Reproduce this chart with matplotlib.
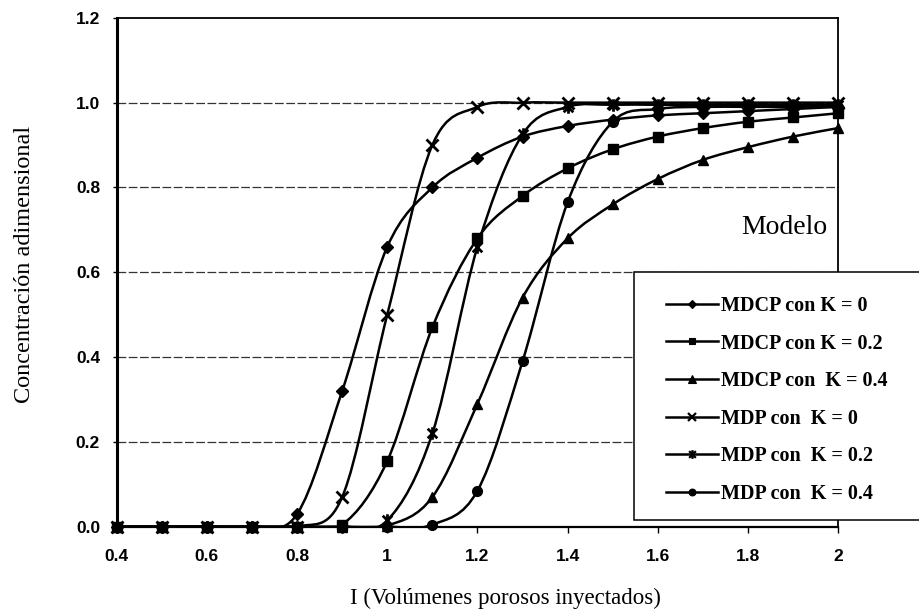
import numpy as np
import matplotlib
matplotlib.use("Agg")
import matplotlib.pyplot as plt
from matplotlib.path import Path
from matplotlib.patches import PathPatch, Rectangle
from matplotlib.lines import Line2D

# volumenes porosos inyectados
x_vals = [0.4, 0.5, 0.6, 0.7, 0.8, 0.9, 1.0, 1.1, 1.2, 1.3, 1.4, 1.5, 1.6, 1.7, 1.8, 1.9, 2.0]

mdcp_k0 = [0, 0, 0, 0, 0.03, 0.32, 0.66, 0.80, 0.87, 0.92, 0.945, 0.96, 0.97, 0.975, 0.98, 0.985, 0.99]
mdcp_k02 = [0, 0, 0, 0, 0, 0.005, 0.155, 0.47, 0.68, 0.78, 0.845, 0.89, 0.92, 0.94, 0.955, 0.965, 0.975]
mdcp_k04 = [0, 0, 0, 0, 0, 0, 0.003, 0.07, 0.29, 0.54, 0.68, 0.76, 0.82, 0.865, 0.895, 0.92, 0.94]
mdp_k0 = [0, 0, 0, 0, 0, 0.07, 0.50, 0.90, 0.99, 1.0, 1.0, 1.0, 1.0, 1.0, 1.0, 1.0, 1.0]
mdp_k02 = [0, 0, 0, 0, 0, 0, 0.015, 0.22, 0.66, 0.925, 0.99, 0.995, 0.995, 0.995, 0.995, 0.995, 0.995]
mdp_k04 = [0, 0, 0, 0, 0, 0, 0, 0.005, 0.085, 0.39, 0.765, 0.955, 0.985, 0.99, 0.99, 0.99, 0.99]

labels = ["MDCP con K = 0", "MDCP con K = 0.2", "MDCP con  K = 0.4",
          "MDP con  K = 0", "MDP con  K = 0.2", "MDP con  K = 0.4"]

x_ticks = [0.4, 0.6, 0.8, 1.0, 1.2, 1.4, 1.6, 1.8, 2.0]
x_ticklabels = ["0.4", "0.6", "0.8", "1", "1.2", "1.4", "1.6", "1.8", "2"]
y_ticks = [0.0, 0.2, 0.4, 0.6, 0.8, 1.0, 1.2]
y_ticklabels = ["0.0", "0.2", "0.4", "0.6", "0.8", "1.0", "1.2"]

# asterisco tipo Excel (x + linea vertical)
star = Path([(-1, -1), (1, 1), (-1, 1), (1, -1), (0, -1.3), (0, 1.3)],
            [Path.MOVETO, Path.LINETO, Path.MOVETO, Path.LINETO, Path.MOVETO, Path.LINETO])

styles = [
    dict(marker="D", ms=6, mew=1),
    dict(marker="s", ms=7, mew=1),
    dict(marker="^", ms=7.5, mew=1),
    dict(marker="x", ms=9, mew=2),
    dict(marker=star, ms=9, mew=2),
    dict(marker="o", ms=7, mew=1),
]


def smooth_path(xs, ys):
    # curva suavizada (Catmull-Rom como Excel)
    pts = np.column_stack([xs, ys]).astype(float)
    n = len(pts)
    verts = [pts[0]]
    codes = [Path.MOVETO]
    for i in range(n - 1):
        p0 = pts[max(i - 1, 0)]
        p1 = pts[i]
        p2 = pts[i + 1]
        p3 = pts[min(i + 2, n - 1)]
        verts += [p1 + (p2 - p0) / 6, p2 - (p3 - p1) / 6, p2]
        codes += [Path.CURVE4] * 3
    return Path(verts, codes)


plt.rcParams["font.family"] = ["Liberation Serif", "DejaVu Serif"]

fig = plt.figure(figsize=(9.19, 6.14), dpi=100)
ax = fig.add_axes([0.127, 0.142, 0.785, 0.829])

series = [mdcp_k0, mdcp_k02, mdcp_k04, mdp_k0, mdp_k02, mdp_k04]
handles = []
for ys, st, lab in zip(series, styles, labels):
    ax.add_patch(PathPatch(smooth_path(x_vals, ys), fill=False, lw=1.8, ec="black", zorder=3))
    mfc = "none" if st["marker"] in ("x",) or st["marker"] is star else "black"
    ax.plot(x_vals, ys, ls="none", marker=st["marker"], ms=st["ms"], mew=st["mew"],
            mec="black", mfc=mfc, zorder=4, clip_on=False)
    handles.append(Line2D([], [], color="black", lw=1.8, marker=st["marker"],
                          ms=st["ms"] * 0.7, mew=st["mew"] * 0.8, mec="black", mfc=mfc))

ax.set_xlim(0.4, 2.0)
ax.set_ylim(0, 1.2)
ax.set_xticks(x_ticks)
ax.set_xticklabels(x_ticklabels)
ax.set_yticks(y_ticks)
ax.set_yticklabels(y_ticklabels)
for t in ax.get_xticklabels() + ax.get_yticklabels():
    t.set_family(["Liberation Sans", "DejaVu Sans"])
    t.set_fontweight("bold")
    t.set_fontsize(12.5)
ax.tick_params(axis="x", direction="out", length=4, width=1, pad=12)
ax.tick_params(axis="y", direction="out", length=3, width=1, pad=9)

for yv in y_ticks[1:-1]:
    ax.axhline(yv, color="0.2", lw=0.9, ls=(0, (7, 2)), zorder=1)

ax.spines["left"].set_linewidth(2.2)
ax.spines["bottom"].set_linewidth(1.6)
ax.spines["top"].set_linewidth(1.3)
ax.spines["right"].set_linewidth(1.3)

ax.text(1.975, 0.705, "Modelo", ha="right", va="center", fontsize=20, zorder=6)

fig.text(0.55, 0.026, "I (Volúmenes porosos inyectados)", ha="center", va="center", fontsize=16.5)
fig.text(0.027, 0.57, "Concentración adimensional", ha="center", va="center",
         rotation=90, fontsize=17.5)

# caja de la leyenda (se sale por la derecha)
box = Rectangle((634 / 919, 1 - 520 / 614), 0.4, (520 - 272) / 614, transform=fig.transFigure,
                fc="white", ec="black", lw=1.1, zorder=5)
fig.add_artist(box)

leg = fig.legend(handles, labels, loc="upper left", bbox_to_anchor=(666 / 919, 1 - 296 / 614),
                 frameon=False, borderpad=0, borderaxespad=0, handlelength=2.6,
                 handletextpad=0.15, labelspacing=0.87,
                 prop={"family": "Liberation Serif", "weight": "bold", "size": 14.5})
leg.set_zorder(6)

fig.savefig("out.png", dpi=100)
